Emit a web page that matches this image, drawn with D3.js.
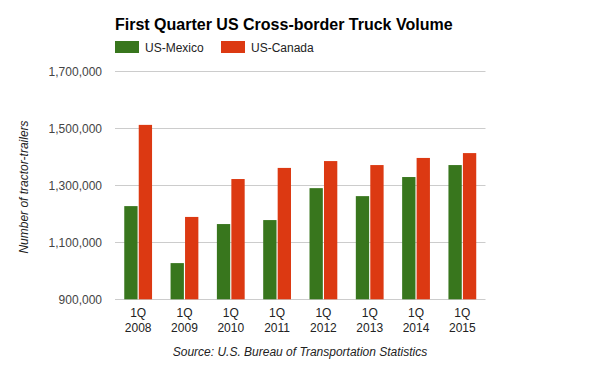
<!DOCTYPE html>
<html>
<head>
<meta charset="utf-8">
<script src="https://cdn.jsdelivr.net/npm/d3@7"></script>
<style>
  body { margin: 0; background: #fff; }
  text { font-family: Arial, "Liberation Sans", sans-serif; }
</style>
</head>
<body>
<svg width="600" height="371"></svg>
<script>
const quarters = ['2008', '2009', '2010', '2011', '2012', '2013', '2014', '2015'];
const mexico = [1227000, 1027000, 1164000, 1178000, 1290000, 1262000, 1329000, 1371000];
const canada = [1512000, 1189000, 1322000, 1361000, 1385000, 1371000, 1396000, 1413000];
const seriesNames = ['US-Mexico', 'US-Canada'];
const colors = ['#38761d', '#dc3912'];
const yTicks = [900000, 1100000, 1300000, 1500000, 1700000];

const svg = d3.select('svg');
const plotLeft = 115, plotRight = 485.5, plotTop = 71.3, plotBottom = 299.3;

const x = d3.scaleBand().domain(quarters).range([plotLeft, plotRight]).paddingInner(0.4).paddingOuter(0.2);
const x1 = d3.scaleBand().domain(seriesNames).range([0, x.bandwidth()]).paddingInner(0.08);
const y = d3.scaleLinear().domain([900000, 1700000]).range([plotBottom, plotTop]);

// gridlines
svg.append('g')
  .selectAll('line')
  .data(yTicks)
  .join('line')
  .attr('x1', plotLeft)
  .attr('x2', plotRight)
  .attr('y1', (d) => Math.round(y(d)) + 0.5)
  .attr('y2', (d) => Math.round(y(d)) + 0.5)
  .attr('stroke', '#cccccc')
  .attr('stroke-width', 1);

// y labels
svg.append('g')
  .selectAll('text')
  .data(yTicks)
  .join('text')
  .attr('x', 102)
  .attr('y', (d) => y(d) + 4.5)
  .attr('text-anchor', 'end')
  .attr('font-size', 12)
  .attr('fill', '#444')
  .text(d3.format(','));

const rows = quarters.map((q, i) => ({ q, vals: [mexico[i], canada[i]] }));

const groups = svg.append('g')
  .selectAll('g')
  .data(rows)
  .join('g')
  .attr('transform', (d) => `translate(${x(d.q)},0)`);

groups.selectAll('rect')
  .data((d) => d.vals.map((v, i) => ({ name: seriesNames[i], v, c: colors[i] })))
  .join('rect')
  .attr('x', (d) => x1(d.name))
  .attr('width', x1.bandwidth())
  .attr('y', (d) => y(d.v))
  .attr('height', (d) => plotBottom - y(d.v))
  .attr('fill', (d) => d.c);

// x labels
const xl = svg.append('g')
  .selectAll('text')
  .data(quarters)
  .join('text')
  .attr('text-anchor', 'middle')
  .attr('font-size', 12)
  .attr('fill', '#222');
xl.append('tspan')
  .attr('x', (d) => x(d) + x.bandwidth() / 2)
  .attr('y', 317)
  .text('1Q');
xl.append('tspan')
  .attr('x', (d) => x(d) + x.bandwidth() / 2)
  .attr('y', 332)
  .text((d) => d);

// title
svg.append('text')
  .attr('x', 115)
  .attr('y', 30)
  .attr('font-size', 16)
  .attr('font-weight', 'bold')
  .attr('fill', '#000')
  .text('First Quarter US Cross-border Truck Volume');

// legend
const leg = svg.append('g')
  .selectAll('g')
  .data(seriesNames)
  .join('g')
  .attr('transform', (d, i) => `translate(${[115, 221][i]},41)`);
leg.append('rect')
  .attr('width', 24)
  .attr('height', 12)
  .attr('fill', (d, i) => colors[i]);
leg.append('text')
  .attr('x', 30)
  .attr('y', 10.5)
  .attr('font-size', 12)
  .attr('fill', '#222')
  .text((d) => d);

// y axis title
svg.append('text')
  .attr('transform', 'translate(28,187) rotate(-90)')
  .attr('text-anchor', 'middle')
  .attr('font-size', 12)
  .attr('font-style', 'italic')
  .attr('fill', '#222')
  .text('Number of tractor-trailers');

// source
svg.append('text')
  .attr('x', 300)
  .attr('y', 356)
  .attr('text-anchor', 'middle')
  .attr('font-size', 12)
  .attr('font-style', 'italic')
  .attr('fill', '#222')
  .text('Source: U.S. Bureau of Transportation Statistics');
</script>
</body>
</html>
